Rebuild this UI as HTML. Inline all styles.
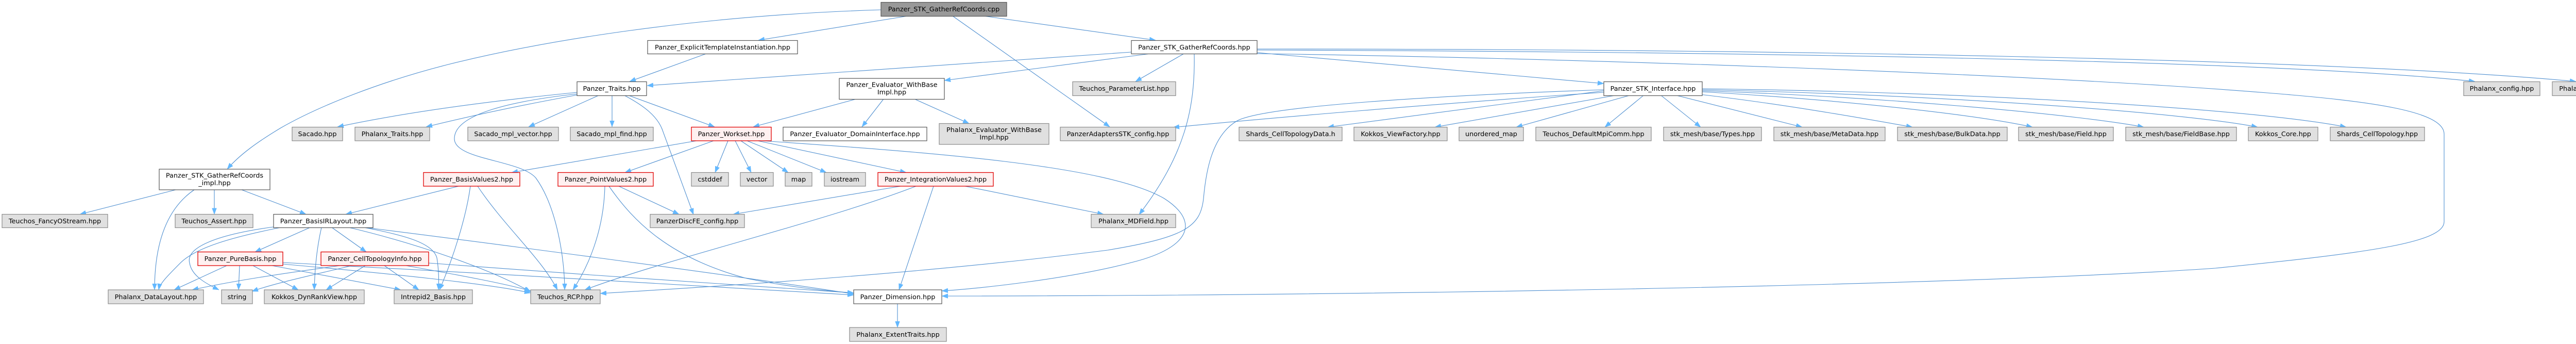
<!DOCTYPE html>
<html>
<head>
<meta charset="utf-8">
<style>
html,body{margin:0;padding:0;background:#fff;}
svg{display:block;}
text{font-family:"DejaVu Sans","Liberation Sans",sans-serif;font-size:12.8px;fill:#000;text-anchor:middle;}
.g{fill:#e0e0e0;stroke:#8a8a8a;stroke-width:1.2;}
.w{fill:#ffffff;stroke:#555;stroke-width:1.2;}
.r{fill:#fff0f0;stroke:#e00000;stroke-width:1.3;}
.root{fill:#999999;stroke:#555;stroke-width:1.2;}
.e path{fill:none;stroke:#4f8fd0;stroke-width:1.1;}
</style>
</head>
<body>
<svg width="5185" height="667" viewBox="0 0 5185 667" xmlns="http://www.w3.org/2000/svg">
<defs>
<marker id="a" viewBox="0 0 12 9" refX="12" refY="4.5" markerWidth="12" markerHeight="9" orient="auto" markerUnits="userSpaceOnUse">
<path d="M0,0 L12,4.5 L0,9 z" fill="#63b8ff" stroke="#63b8ff" stroke-width="0.5"/>
</marker>
</defs>
<rect width="5185" height="667" fill="#fff"/>
<g class="e" marker-end="url(#a)">
<path marker-end="url(#a)" d="M1710,19 C1350,30 1050,80 870,125 C740,158 620,205 545,248 C500,275 465,300 441,328"/>
<path marker-end="url(#a)" d="M1762,31 L1472,78"/>
<path marker-end="url(#a)" d="M1909,31 L2243,78"/>
<path marker-end="url(#a)" d="M1849,31 L2154,246"/>
<path marker-end="url(#a)" d="M1371,104 L1222,158"/>
<path marker-end="url(#a)" d="M2196,101 L1256,166"/>
<path marker-end="url(#a)" d="M2233,104 L1833,156"/>
<path marker-end="url(#a)" d="M2298,104 L2204,158"/>
<path marker-end="url(#a)" d="M2318,104 C2320,210 2300,300 2211,416"/>
<path marker-end="url(#a)" d="M2440,102 L3113,162"/>
<path marker-end="url(#a)" d="M2440,97 C3300,100 4400,115 4804,158"/>
<path marker-end="url(#a)" d="M2440,95 C3400,95 4500,112 5000,158"/>
<path marker-end="url(#a)" d="M2440,104 C3000,112 3900,140 4400,180 C4600,196 4744,215 4744,260 L4744,430 C4744,470 4600,490 4300,520 C3800,555 2600,574 1828,574"/>
<path marker-end="url(#a)" d="M1121,179 C980,193 800,215 655,246"/>
<path marker-end="url(#a)" d="M1121,184 C1000,206 900,228 827,246"/>
<path marker-end="url(#a)" d="M1121,182 C1000,195 880,220 882,270 C884,310 1010,310 1040,345 C1080,400 1096,500 1096,562"/>
<path marker-end="url(#a)" d="M1162,185 L1026,246"/>
<path marker-end="url(#a)" d="M1188,185 L1188,246"/>
<path marker-end="url(#a)" d="M1220,185 L1387,246"/>
<path marker-end="url(#a)" d="M1212,185 C1250,205 1275,225 1285,250 L1346,416"/>
<path marker-end="url(#a)" d="M1662,192 L1462,246"/>
<path marker-end="url(#a)" d="M1715,192 L1673,246"/>
<path marker-end="url(#a)" d="M1775,192 L1881,239.5"/>
<path marker-end="url(#a)" d="M1352,273 L993,334.5"/>
<path marker-end="url(#a)" d="M1385,273 L1213,334.5"/>
<path marker-end="url(#a)" d="M1413,273 L1388,334.5"/>
<path marker-end="url(#a)" d="M1427,273 L1458,334.5"/>
<path marker-end="url(#a)" d="M1438,273 L1530,334.5"/>
<path marker-end="url(#a)" d="M1450,273 L1604,334.5"/>
<path marker-end="url(#a)" d="M1471,273 L1759,334.5"/>
<path marker-end="url(#a)" d="M1480,273 C1800,295 2150,320 2260,385 C2330,430 2310,480 2200,508 C2080,540 1900,560 1828,564"/>
<path marker-end="url(#a)" d="M890,361 L671,415.5"/>
<path marker-end="url(#a)" d="M913,361 C905,420 880,500 853,562"/>
<path marker-end="url(#a)" d="M927,361 C980,440 1050,500 1082,562"/>
<path marker-end="url(#a)" d="M1201,361 L1318,415.5"/>
<path marker-end="url(#a)" d="M1174,361 C1172,450 1140,520 1112,562"/>
<path marker-end="url(#a)" d="M1182,361 C1230,430 1300,500 1450,540 C1550,560 1620,565 1657,568"/>
<path marker-end="url(#a)" d="M1748,361 L1423,415.5"/>
<path marker-end="url(#a)" d="M1778,361 C1600,430 1300,500 1135,562"/>
<path marker-end="url(#a)" d="M1812,361 L1745,562"/>
<path marker-end="url(#a)" d="M1873,361 L2142,415.5"/>
<path marker-end="url(#a)" d="M341,368 L155,415.5"/>
<path marker-end="url(#a)" d="M377,368 C330,400 300,460 300,562"/>
<path marker-end="url(#a)" d="M416,368 L416,415.5"/>
<path marker-end="url(#a)" d="M469,368 L594,415.5"/>
<path marker-end="url(#a)" d="M545,441 C450,460 380,480 350,510 C325,535 310,550 308,562"/>
<path marker-end="url(#a)" d="M531,440 C420,455 360,480 368,510 C372,535 400,550 425,562"/>
<path marker-end="url(#a)" d="M602,441 L495,488.5"/>
<path marker-end="url(#a)" d="M624,441 C615,480 611,520 610,562"/>
<path marker-end="url(#a)" d="M644,441 L711,488.5"/>
<path marker-end="url(#a)" d="M706,441 C780,455 840,470 848,500 C852,525 852,545 851,562"/>
<path marker-end="url(#a)" d="M677,441 C800,470 950,520 1030,566"/>
<path marker-end="url(#a)" d="M708,441 C900,465 1400,530 1657,570"/>
<path marker-end="url(#a)" d="M440,515 L338,562"/>
<path marker-end="url(#a)" d="M465,515 L463,562"/>
<path marker-end="url(#a)" d="M491,515 L579,562"/>
<path marker-end="url(#a)" d="M528,515 L778,562"/>
<path marker-end="url(#a)" d="M549,512 C750,530 950,550 1030,568"/>
<path marker-end="url(#a)" d="M549,509 C900,528 1400,555 1657,572"/>
<path marker-end="url(#a)" d="M660,515 C550,530 450,545 373,562"/>
<path marker-end="url(#a)" d="M683,515 C600,535 530,550 489,565"/>
<path marker-end="url(#a)" d="M709,515 L633,562"/>
<path marker-end="url(#a)" d="M746,515 L813,562"/>
<path marker-end="url(#a)" d="M788,515 C900,535 980,550 1030,564"/>
<path marker-end="url(#a)" d="M832,510 C1100,530 1450,555 1657,568"/>
<path marker-end="url(#a)" d="M1742,589 L1742,635"/>
<path marker-end="url(#a)" d="M3113,176 L2577,246.5"/>
<path marker-end="url(#a)" d="M3113,179 C2800,200 2450,230 2277,247"/>
<path marker-end="url(#a)" d="M3113,174 C2800,185 2450,205 2400,235 C2350,265 2340,340 2336,385 C2330,440 2300,460 2150,485 C1800,530 1400,555 1165,569"/>
<path marker-end="url(#a)" d="M3135,185 L2785,246.5"/>
<path marker-end="url(#a)" d="M3163,185 L2943,246.5"/>
<path marker-end="url(#a)" d="M3190,185 L3115,246.5"/>
<path marker-end="url(#a)" d="M3224,185 L3301,246.5"/>
<path marker-end="url(#a)" d="M3254,185 L3498,246.5"/>
<path marker-end="url(#a)" d="M3290,182 C3450,200 3620,230 3712,246.5"/>
<path marker-end="url(#a)" d="M3304,178 C3600,195 3850,225 3945,246.5"/>
<path marker-end="url(#a)" d="M3304,176 C3700,190 4050,225 4161,246.5"/>
<path marker-end="url(#a)" d="M3304,174 C3800,185 4250,220 4382,246.5"/>
<path marker-end="url(#a)" d="M3304,172 C3900,180 4400,215 4554,246.5"/>
</g>

<!-- Row 0 -->
<rect class="root" x="1710" y="4.5" width="244" height="27"/>
<text x="1832" y="22">Panzer_STK_GatherRefCoords.cpp</text>

<!-- Row 1 -->
<rect class="w" x="1257" y="78.5" width="291" height="26"/>
<text x="1402.5" y="96">Panzer_ExplicitTemplateInstantiation.hpp</text>
<rect class="w" x="2196" y="78.5" width="244" height="26"/>
<text x="2318" y="96">Panzer_STK_GatherRefCoords.hpp</text>

<!-- Row 2 -->
<rect class="w" x="1120" y="158.5" width="135" height="27"/>
<text x="1187.5" y="176">Panzer_Traits.hpp</text>
<rect class="w" x="1629" y="152" width="204" height="40.5"/>
<text x="1731" y="168.5">Panzer_Evaluator_WithBase</text>
<text x="1731" y="183">Impl.hpp</text>
<rect class="g" x="2082" y="158.5" width="200" height="27"/>
<text x="2182" y="176">Teuchos_ParameterList.hpp</text>
<rect class="w" x="3113" y="158.5" width="191" height="27"/>
<text x="3208.5" y="176">Panzer_STK_Interface.hpp</text>
<rect class="g" x="4782" y="158.5" width="148" height="27"/>
<text x="4856" y="176">Phalanx_config.hpp</text>
<rect class="g" x="4954" y="158.5" width="225" height="27"/>
<text x="5066.5" y="176">Phalanx_Evaluator_Macros.hpp</text>

<!-- Row 3 -->
<rect class="g" x="567" y="246.5" width="98" height="26.5"/>
<text x="616" y="264">Sacado.hpp</text>
<rect class="g" x="689" y="246.5" width="145" height="26.5"/>
<text x="761.5" y="264">Phalanx_Traits.hpp</text>
<rect class="g" x="908" y="246.5" width="176" height="26.5"/>
<text x="996" y="264">Sacado_mpl_vector.hpp</text>
<rect class="g" x="1107" y="246.5" width="161" height="26.5"/>
<text x="1187.5" y="264">Sacado_mpl_find.hpp</text>
<rect class="r" x="1342" y="246.5" width="155" height="26.5"/>
<text x="1419.5" y="264">Panzer_Workset.hpp</text>
<rect class="w" x="1520" y="246.5" width="279" height="26.5"/>
<text x="1659.5" y="264">Panzer_Evaluator_DomainInterface.hpp</text>
<rect class="g" x="1823" y="239.5" width="213" height="40.5"/>
<text x="1929.5" y="256">Phalanx_Evaluator_WithBase</text>
<text x="1929.5" y="270.5">Impl.hpp</text>
<rect class="g" x="2058" y="246.5" width="224" height="26.5"/>
<text x="2170" y="264">PanzerAdaptersSTK_config.hpp</text>
<rect class="g" x="2405" y="246.5" width="200" height="26.5"/>
<text x="2505" y="264">Shards_CellTopologyData.h</text>
<rect class="g" x="2628" y="246.5" width="181" height="26.5"/>
<text x="2718.5" y="264">Kokkos_ViewFactory.hpp</text>
<rect class="g" x="2832" y="246.5" width="125" height="26.5"/>
<text x="2894.5" y="264">unordered_map</text>
<rect class="g" x="2981" y="246.5" width="224" height="26.5"/>
<text x="3093" y="264">Teuchos_DefaultMpiComm.hpp</text>
<rect class="g" x="3229" y="246.5" width="190" height="26.5"/>
<text x="3324" y="264">stk_mesh/base/Types.hpp</text>
<rect class="g" x="3443" y="246.5" width="216" height="26.5"/>
<text x="3551" y="264">stk_mesh/base/MetaData.hpp</text>
<rect class="g" x="3683" y="246.5" width="213" height="26.5"/>
<text x="3789.5" y="264">stk_mesh/base/BulkData.hpp</text>
<rect class="g" x="3918" y="246.5" width="184" height="26.5"/>
<text x="4010" y="264">stk_mesh/base/Field.hpp</text>
<rect class="g" x="4126" y="246.5" width="215" height="26.5"/>
<text x="4233.5" y="264">stk_mesh/base/FieldBase.hpp</text>
<rect class="g" x="4364" y="246.5" width="135" height="26.5"/>
<text x="4431.5" y="264">Kokkos_Core.hpp</text>
<rect class="g" x="4523" y="246.5" width="183" height="26.5"/>
<text x="4614.5" y="264">Shards_CellTopology.hpp</text>

<!-- Row 4 -->
<rect class="w" x="309" y="328" width="215" height="40"/>
<text x="416.5" y="344.5">Panzer_STK_GatherRefCoords</text>
<text x="416.5" y="359">_impl.hpp</text>
<rect class="r" x="822" y="334.5" width="187" height="26.5"/>
<text x="915.5" y="352">Panzer_BasisValues2.hpp</text>
<rect class="r" x="1083" y="334.5" width="185" height="26.5"/>
<text x="1175.5" y="352">Panzer_PointValues2.hpp</text>
<rect class="g" x="1342" y="334.5" width="72" height="26.5"/>
<text x="1378" y="352">cstddef</text>
<rect class="g" x="1437" y="334.5" width="64" height="26.5"/>
<text x="1469" y="352">vector</text>
<rect class="g" x="1524" y="334.5" width="52" height="26.5"/>
<text x="1550" y="352">map</text>
<rect class="g" x="1600" y="334.5" width="80" height="26.5"/>
<text x="1640" y="352">iostream</text>
<rect class="r" x="1704" y="334.5" width="224" height="26.5"/>
<text x="1816" y="352">Panzer_IntegrationValues2.hpp</text>

<!-- Row 5 -->
<rect class="g" x="4" y="415.5" width="205" height="26"/>
<text x="106.5" y="433">Teuchos_FancyOStream.hpp</text>
<rect class="g" x="340" y="415.5" width="151" height="26"/>
<text x="415.5" y="433">Teuchos_Assert.hpp</text>
<rect class="w" x="531" y="415.5" width="193" height="26"/>
<text x="627.5" y="433">Panzer_BasisIRLayout.hpp</text>
<rect class="g" x="1262" y="415.5" width="183" height="26"/>
<text x="1353.5" y="433">PanzerDiscFE_config.hpp</text>
<rect class="g" x="2118" y="415.5" width="164" height="26"/>
<text x="2200" y="433">Phalanx_MDField.hpp</text>

<!-- Row 6 -->
<rect class="r" x="384" y="488.5" width="165" height="26.5"/>
<text x="466.5" y="506">Panzer_PureBasis.hpp</text>
<rect class="r" x="623" y="488.5" width="209" height="26.5"/>
<text x="727.5" y="506">Panzer_CellTopologyInfo.hpp</text>

<!-- Row 7 -->
<rect class="g" x="210" y="562" width="185" height="27"/>
<text x="302.5" y="580">Phalanx_DataLayout.hpp</text>
<rect class="g" x="430" y="562" width="60" height="27"/>
<text x="460" y="580">string</text>
<rect class="g" x="513" y="562" width="194" height="27"/>
<text x="610" y="580">Kokkos_DynRankView.hpp</text>
<rect class="g" x="765" y="562" width="152" height="27"/>
<text x="841" y="580">Intrepid2_Basis.hpp</text>
<rect class="g" x="1030" y="562" width="135" height="27"/>
<text x="1097.5" y="580">Teuchos_RCP.hpp</text>
<rect class="w" x="1657" y="562" width="171" height="27"/>
<text x="1742.5" y="580">Panzer_Dimension.hpp</text>

<!-- Row 8 -->
<rect class="g" x="1649" y="635" width="188" height="27"/>
<text x="1743" y="653">Phalanx_ExtentTraits.hpp</text>
</svg>
</body>
</html>
